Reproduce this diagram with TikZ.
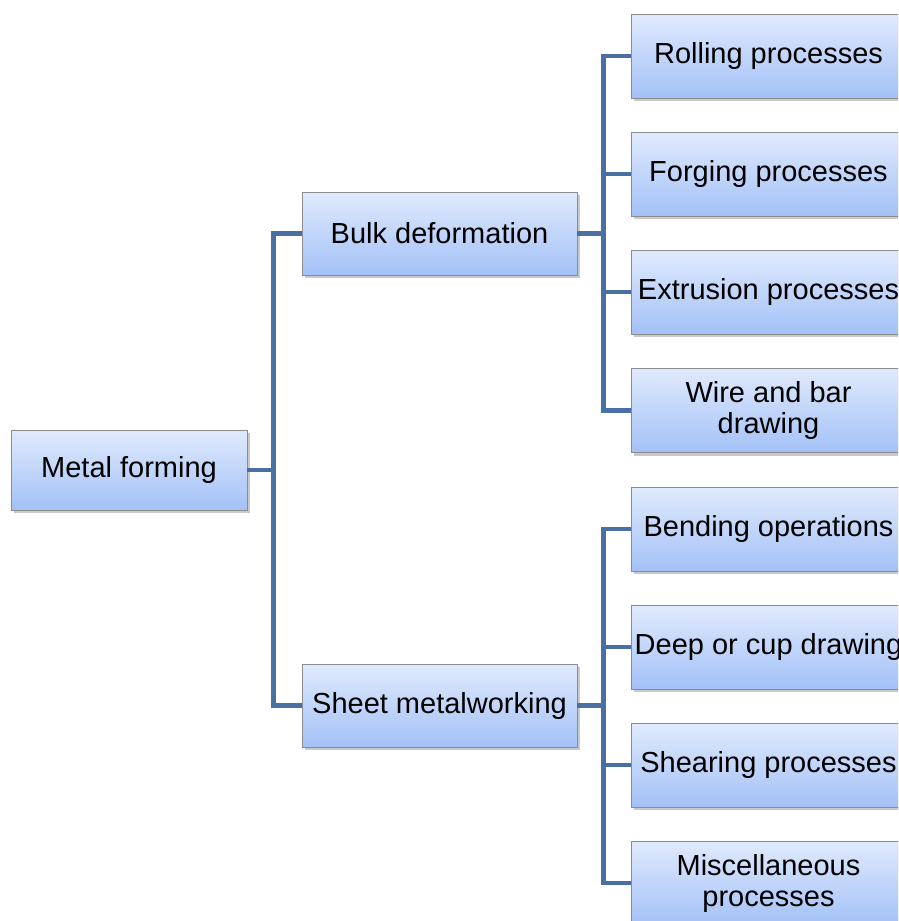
\documentclass[tikz,border=0pt]{standalone}
\usepackage{fontspec}
\setmainfont{Liberation Sans}
\usetikzlibrary{shadows}
\definecolor{boxtop}{HTML}{E0EAFD}
\definecolor{boxbot}{HTML}{A3C1F7}
\definecolor{boxline}{HTML}{8C8C8C}
\definecolor{conncol}{HTML}{4A6FA5}
\tikzset{
  boxnode/.style={draw=boxline, line width=0.8pt, top color=boxtop, bottom color=boxbot,
    inner sep=0pt, align=center, font=\fontsize{29}{31}\selectfont,
    drop shadow={shadow xshift=2.5pt, shadow yshift=-3pt, opacity=0.35, fill=black!60}},
  rootbox/.style={boxnode, minimum width=236pt, minimum height=80pt},
  midbox/.style={boxnode, minimum width=275pt, minimum height=83pt},
  leafbox/.style={boxnode, minimum width=275pt, minimum height=84pt},
  conn/.style={draw=conncol, line width=4.5pt, line join=miter}
}
\begin{document}
\begin{tikzpicture}[x=1pt,y=1pt]
\useasboundingbox (0,0) rectangle (898,-921);
\clip (0,0) rectangle (898,-921);
\fill[white] (0,0) rectangle (898,-921);

\node[rootbox] (mf) at (129,-470) {Metal forming};
\node[midbox] (bd) at (439.5,-233.5) {Bulk deformation};
\node[midbox] (sm) at (439.5,-705.5) {Sheet metalworking};

\node[leafbox] (r1) at (768.5,-56) {Rolling processes};
\node[leafbox] (r2) at (768.5,-174) {Forging processes};
\node[leafbox] (r3) at (768.5,-292) {Extrusion processes};
\node[leafbox] (r4) at (768.5,-410.5) {Wire and bar\\drawing};
\node[leafbox] (r5) at (768.5,-529) {Bending operations};
\node[leafbox] (r6) at (768.5,-647) {Deep or cup drawing};
\node[leafbox] (r7) at (768.5,-765) {Shearing processes};
\node[leafbox] (r8) at (768.5,-883) {Miscellaneous\\processes};

\foreach \c in {bd,sm}
  \draw[conn] (mf.east) -| ([xshift=-28pt]\c.west) -- (\c.west);
\foreach \c in {r1,r2,r3,r4}
  \draw[conn] (bd.east) -| ([xshift=-27pt]\c.west) -- (\c.west);
\foreach \c in {r5,r6,r7,r8}
  \draw[conn] (sm.east) -| ([xshift=-27pt]\c.west) -- (\c.west);
\end{tikzpicture}
\end{document}
